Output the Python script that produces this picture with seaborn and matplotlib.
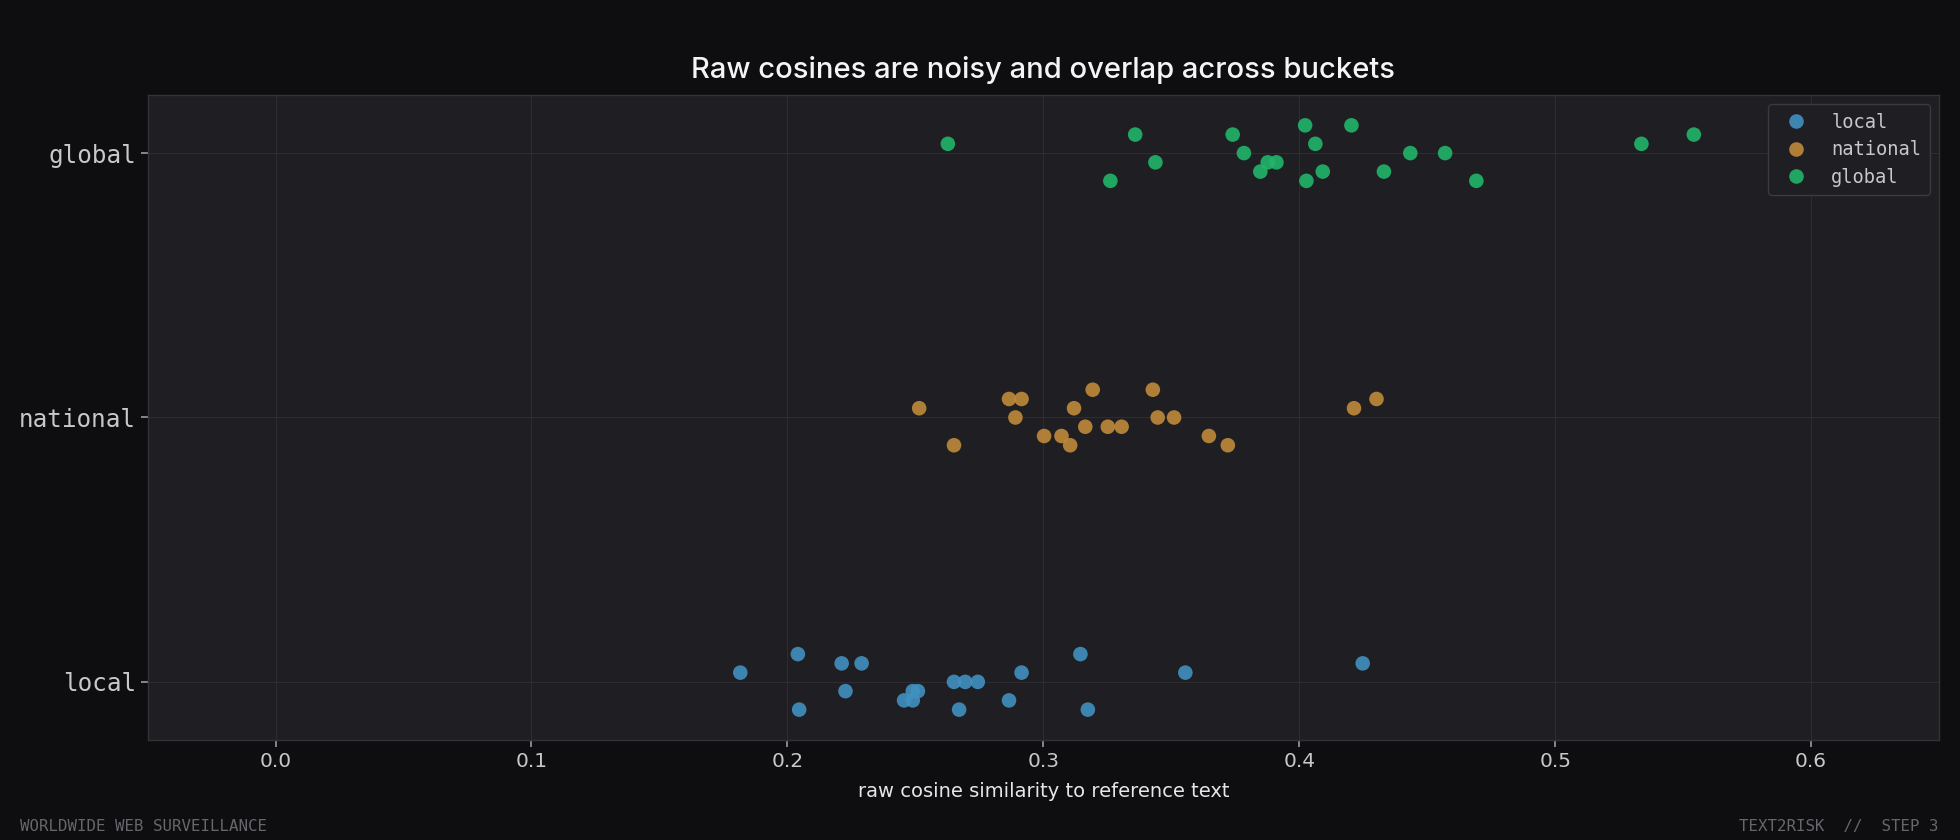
import numpy as np
import pandas as pd
import seaborn as sns
import matplotlib.pyplot as plt

# buckets, top to bottom on the chart
buckets = ['local', 'national', 'global']
colors = ['#4191c0', '#c08a3a', '#22b56a']

# raw cosine values, with the jitter lane (-3..3) each point sits in
local_cos = [0.2041, 0.3145, 0.2212, 0.2290, 0.4248, 0.1816, 0.2915, 0.3555, 0.2651, 0.2695,
             0.2744, 0.2227, 0.2490, 0.2510, 0.2456, 0.2490, 0.2866, 0.2046, 0.2671, 0.3174]
local_lane = [-3, -3, -2, -2, -2, -1, -1, -1, 0, 0, 0, 1, 1, 1, 2, 2, 2, 3, 3, 3]

national_cos = [0.2515, 0.2866, 0.2915, 0.3193, 0.3428, 0.3120, 0.2891, 0.3447, 0.3511, 0.3164,
                0.3252, 0.3306, 0.3003, 0.3071, 0.3647, 0.2651, 0.3105, 0.3721, 0.4214, 0.4302]
national_lane = [-1, -2, -2, -3, -3, -1, 0, 0, 0, 1, 1, 1, 2, 2, 2, 3, 3, 3, -1, -2]

global_cos = [0.2627, 0.3359, 0.3740, 0.4023, 0.4204, 0.3784, 0.3438, 0.3877, 0.3911, 0.3848,
              0.4092, 0.4331, 0.3262, 0.4028, 0.4692, 0.4063, 0.4434, 0.4570, 0.5337, 0.5542]
global_lane = [-1, -2, -2, -3, -3, 0, 1, 1, 1, 2, 2, 2, 3, 3, 3, -1, 0, 0, -1, -2]

JITTER_STEP = 0.035

rows = []
for b, cos, lane in [('local', local_cos, local_lane),
                     ('national', national_cos, national_lane),
                     ('global', global_cos, global_lane)]:
    for c, l in zip(cos, lane):
        rows.append((b, c, l))
df = pd.DataFrame(rows, columns=['bucket', 'cosine', 'lane'])
df['ypos'] = df['bucket'].map({b: i for i, b in enumerate(buckets)}) - df['lane'] * JITTER_STEP

FIG_BG = '#0e0e10'
AX_BG = '#1f1f23'
TXT = '#c8c8cc'

sns.set_theme(style='dark')
plt.rcParams['font.family'] = ['DejaVu Sans']

fig = plt.figure(figsize=(19.6, 8.4), dpi=100, facecolor=FIG_BG)
ax = fig.add_axes([0.0753, 0.119, 0.914, 0.768])
ax.set_facecolor(AX_BG)

sns.scatterplot(data=df, x='cosine', y='ypos', hue='bucket', hue_order=buckets,
                palette=colors, s=110, alpha=0.9, edgecolor='none', ax=ax, zorder=3)

ax.set_xlim(-0.05, 0.65)
ax.set_ylim(-0.22, 2.22)
ax.set_yticks(range(len(buckets)))
ax.set_yticklabels(buckets, family='DejaVu Sans Mono', fontsize=17.5, color=TXT)
ax.set_xticks(np.arange(0, 0.61, 0.1))
ax.set_xticklabels([f'{v:.1f}' for v in np.arange(0, 0.61, 0.1)], fontsize=14.5, color=TXT)
ax.tick_params(axis='both', length=5, width=1.2, color='#9a9aa0', direction='out', bottom=True, left=True)
ax.grid(True, color='#2c2c31', linewidth=0.8, zorder=0)
for sp in ax.spines.values():
    sp.set_color('#323237')
    sp.set_linewidth(1.0)

ax.set_ylabel('')
ax.set_xlabel('raw cosine similarity to reference text', fontsize=14, color='#e6e6e8', labelpad=8)
ax.set_title('Raw cosines are noisy and overlap across buckets', fontsize=21, fontweight='medium',
             family=['Inter', 'DejaVu Sans'], color='#f4f4f6', pad=12)

leg = ax.legend(loc='upper right', frameon=True, prop={'family': 'DejaVu Sans Mono', 'size': 13.5},
                facecolor=AX_BG, edgecolor='#3a3a3f', borderpad=0.45, handletextpad=0.9,
                labelspacing=0.45, markerscale=1.0, framealpha=1)
for t in leg.get_texts():
    t.set_color(TXT)

fig.text(0.010, 0.007, 'WORLDWIDE WEB SURVEILLANCE', family='DejaVu Sans Mono', fontsize=11.3,
         color='#66666b', ha='left', va='bottom')
fig.text(0.989, 0.007, 'TEXT2RISK  //  STEP 3', family='DejaVu Sans Mono', fontsize=11.3,
         color='#66666b', ha='right', va='bottom')

plt.savefig('out.png', dpi=100, facecolor=FIG_BG)
